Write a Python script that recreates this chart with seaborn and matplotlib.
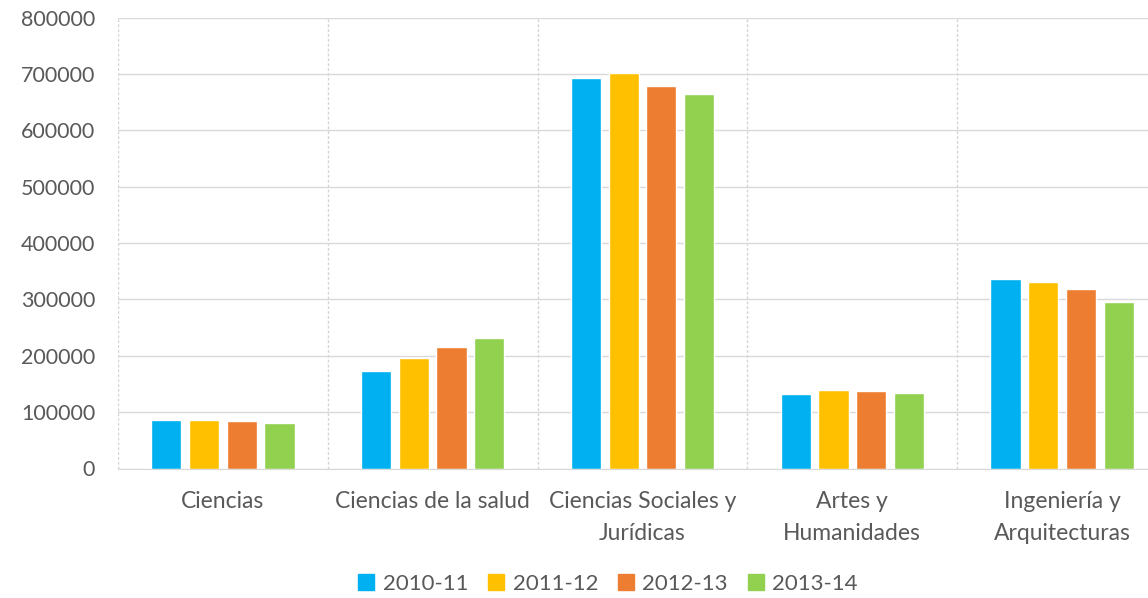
import numpy as np
import pandas as pd
import matplotlib.pyplot as plt
import seaborn as sns

categorias = ["Ciencias", "Ciencias de la salud", "Ciencias Sociales y\nJurídicas",
              "Artes y\nHumanidades", "Ingeniería y\nArquitecturas"]
cursos = ["2010-11", "2011-12", "2012-13", "2013-14"]

v_2010 = [85900, 172900, 692900, 132500, 336100]
v_2011 = [85700, 196500, 701000, 139600, 331400]
v_2012 = [83500, 215300, 679300, 136700, 317800]
v_2013 = [81200, 231800, 664500, 134300, 295900]

colores = ["#00B0F0", "#FFC000", "#ED7D31", "#92D050"]

df = pd.DataFrame({
    "rama": categorias * 4,
    "curso": np.repeat(cursos, len(categorias)),
    "alumnos": v_2010 + v_2011 + v_2012 + v_2013,
})

sns.set_style("white")
plt.rcParams['font.family'] = ['Lato', 'DejaVu Sans']
gris = "#595959"

fig = plt.figure(figsize=(11.48, 5.98), dpi=100)
ax = fig.add_axes([118 / 1148, 129.5 / 598, 1049 / 1148, 451 / 598])

sns.barplot(data=df, x="rama", y="alumnos", hue="curso", palette=colores,
            saturation=1, width=0.72, gap=0.2, ax=ax, legend=True)

ax.set_ylim(0, 800000)
ax.set_xlim(-0.5, len(categorias) - 0.5)
ax.set_yticks(np.arange(0, 800001, 100000))
ax.set_xlabel("")
ax.set_ylabel("")

# rejilla: horizontales + separadores de categorías
ax.set_xticks(np.arange(len(categorias) + 1) - 0.5, minor=True)
ax.grid(axis="y", color="#d9d9d9", linewidth=1)
ax.grid(axis="x", which="minor", color="#d4d4d4", linewidth=1, linestyle=(0, (2, 1.5)))
ax.grid(axis="x", which="major", visible=False)
ax.set_axisbelow(True)

for s in ["top", "right", "left"]:
    ax.spines[s].set_visible(False)
ax.spines["bottom"].set_color("#d9d9d9")

ax.set_xticks(range(len(categorias)))
ax.set_xticklabels(categorias, fontsize=16.5)
ax.tick_params(axis="both", which="both", length=0, colors=gris)
ax.tick_params(axis="y", labelsize=15.5, pad=16.5)
ax.tick_params(axis="x", pad=16.5)
plt.setp(ax.get_xticklabels(), linespacing=1.6)

leg = ax.get_legend()
leg.remove()
handles = [plt.Rectangle((0, 0), 1, 1, color=c) for c in colores]
fig.legend(handles, cursos, loc="center", bbox_to_anchor=(608 / 1148, 1 - 584 / 598),
           ncol=4, frameon=False, fontsize=16, handlelength=0.7, handleheight=0.7,
           handletextpad=0.4, columnspacing=0.9, labelcolor=gris)

fig.savefig("out.png", dpi=100)
